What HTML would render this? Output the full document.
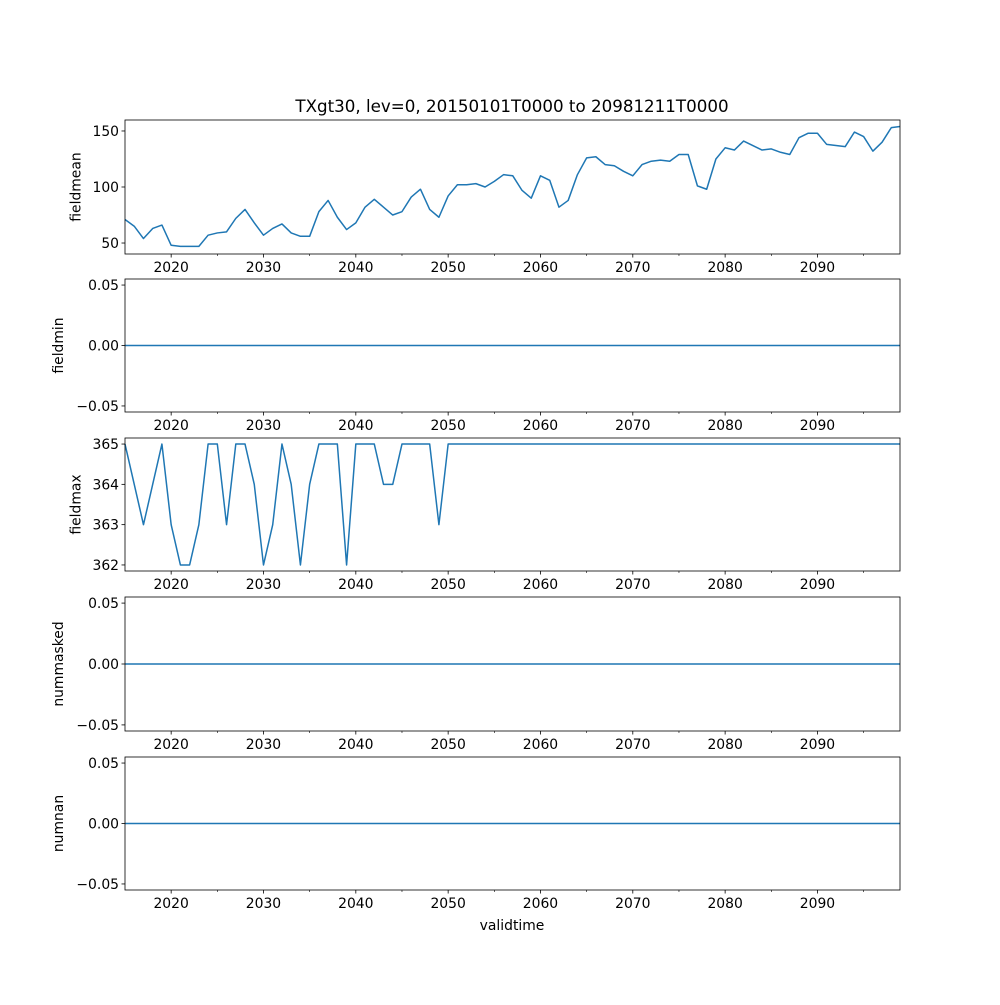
<!DOCTYPE html>
<html><head><meta charset="utf-8"><style>
body{margin:0;background:#fff}
svg text{font-family:"DejaVu Sans","Liberation Sans",sans-serif;font-size:13.9px;fill:#000}
svg text.title{font-size:16.7px}
</style></head><body>
<svg id="fig" width="1000" height="1000" xmlns="http://www.w3.org/2000/svg"></svg>
<script>
const times = [];
for (let y = 2015; y <= 2098; y++) times.push(y);
times.push(2098.94);
const fieldmean = [71,65,54,63,66,48,47,47,47,57,59,60,72,80,68,57,63,67,59,56,56,78,88,73,62,68,82,89,82,75,78,91,98,80,73,92,102,102,103,100,105,111,110,97,90,110,106,82,88,111,126,127,120,119,114,110,120,123,124,123,129,129,101,98,125,135,133,141,137,133,134,131,129,144,148,148,138,137,136,149,145,132,140,153,154];
const fieldmax = [365,364,363,364,365,363,362,362,363,365,365,363,365,365,364,362,363,365,364,362,364,365,365,365,362,365,365,365,364,364,365,365,365,365,363,365,365,365,365,365,365,365,365,365,365,365,365,365,365,365,365,365,365,365,365,365,365,365,365,365,365,365,365,365,365,365,365,365,365,365,365,365,365,365,365,365,365,365,365,365,365,365,365,365,365];
const fieldmin = times.map(()=>0);
const nummasked = times.map(()=>0);
const numnan = times.map(()=>0);
const xTicks = [2020,2030,2040,2050,2060,2070,2080,2090];
const xMinor = [2025,2035,2045,2055,2065,2075,2085,2095];
const zeroTicks = [0.05,0,-0.05];
const zeroTickLabels = ["0.05","0.00","\u22120.05"];

const svg = document.getElementById('fig');
const NS = 'http://www.w3.org/2000/svg';
const X0=125, X1=900, xmin=2015, xmax=2098.94;
const xs = v => X0 + (v - xmin) / (xmax - xmin) * (X1 - X0);
function el(tag, attrs, parent){const e=document.createElementNS(NS,tag);for(const k in attrs)e.setAttribute(k,attrs[k]);(parent||svg).appendChild(e);return e;}

const panels = [
 {name:'fieldmean', data:fieldmean, top:120, bot:254, ymin:40.2, ymax:159.8, ticks:[50,100,150], labels:["50","100","150"]},
 {name:'fieldmin', data:fieldmin, top:279, bot:412, ymin:-0.055, ymax:0.055, ticks:zeroTicks, labels:zeroTickLabels},
 {name:'fieldmax', data:fieldmax, top:438, bot:571, ymin:361.85, ymax:365.15, ticks:[362,363,364,365], labels:["362","363","364","365"]},
 {name:'nummasked', data:nummasked, top:597, bot:731, ymin:-0.055, ymax:0.055, ticks:zeroTicks, labels:zeroTickLabels},
 {name:'numnan', data:numnan, top:757, bot:890, ymin:-0.055, ymax:0.055, ticks:zeroTicks, labels:zeroTickLabels}
];

const title = el('text',{x:512,y:112,'text-anchor':'middle','class':'title'});


title.textContent='TXgt30, lev=0, 20150101T0000 to 20981211T0000';

panels.forEach(p=>{
  const g = el('g',{});
  
  
  const ys = v => p.bot - (v - p.ymin)/(p.ymax - p.ymin)*(p.bot - p.top);
  const pts = p.data.map((v,i)=>xs(times[i]).toFixed(2)+','+ys(v).toFixed(2)).join(' ');
  const line = el('polyline',{points:pts,fill:'none',stroke:'#1f77b4','stroke-width':1.5,'stroke-linejoin':'round'},g);
  
  
  const frame = el('rect',{x:X0,y:p.top,width:X1-X0,height:p.bot-p.top,fill:'none',stroke:'#000','stroke-width':0.8},g);
  
  
  xTicks.forEach(t=>{
    el('line',{x1:xs(t),x2:xs(t),y1:p.bot,y2:p.bot+3.5,stroke:'#000','stroke-width':0.8},g);
    const tx = el('text',{x:xs(t),y:p.bot+18,'text-anchor':'middle'},g);
    
    
    tx.textContent=t;
  });
  xMinor.forEach(t=>el('line',{x1:xs(t),x2:xs(t),y1:p.bot,y2:p.bot+2,stroke:'#000','stroke-width':0.6},g));
  p.ticks.forEach((t,i)=>{
    el('line',{x1:X0-3.5,x2:X0,y1:ys(t),y2:ys(t),stroke:'#000','stroke-width':0.8},g);
    const ty = el('text',{x:X0-6,y:ys(t)+5,'text-anchor':'end'},g);
    
    
    ty.textContent=p.labels[i];
  });
  const maxW = Math.max(...p.labels.map(s=>s.length))*8.8;
  const lx = X0 - 10 - maxW - 8;
  const cy = (p.top+p.bot)/2;
  const yl = el('text',{x:lx,y:cy,'text-anchor':'middle',transform:`rotate(-90 ${lx} ${cy})`},g);
  
  
  yl.textContent=p.name;
});
const xl = el('text',{x:512,y:930,'text-anchor':'middle'});


xl.textContent='validtime';
</script>
</body></html>
